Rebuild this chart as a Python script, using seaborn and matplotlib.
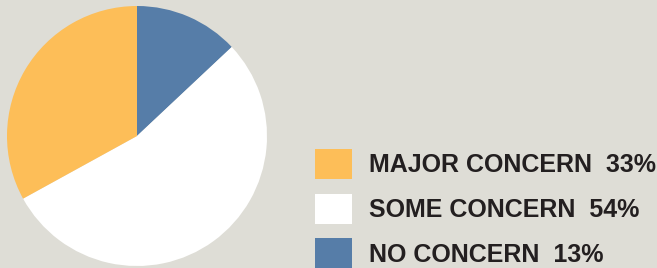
import matplotlib
matplotlib.use("Agg")
import matplotlib.pyplot as plt
import seaborn as sns
from matplotlib.patches import Patch

categories = ["MAJOR CONCERN", "SOME CONCERN", "NO CONCERN"]
values = [33, 54, 13]
colors = ["#FDBE58", "#FFFFFF", "#567DA8"]
bg = "#DEDDD6"
text_color = "#231F20"

sns.set_theme(style="white")
plt.rcParams["font.family"] = ["Liberation Sans", "DejaVu Sans"]

W, H = 657, 268
fig = plt.figure(figsize=(W / 100, H / 100), dpi=100, facecolor=bg)

ax = fig.add_axes([7 / W, (H - 266) / H, 260 / W, 260 / H])
ax.set_facecolor(bg)
order = [2, 1, 0]  # clockwise from top: NO, SOME, MAJOR
ax.pie([values[i] for i in order], colors=[colors[i] for i in order],
       startangle=90, counterclock=False, radius=1,
       wedgeprops=dict(linewidth=0))
ax.set_xlim(-1, 1)
ax.set_ylim(-1, 1)
ax.set_aspect("equal")
ax.axis("off")

fs = 18
fpx = fs * 100 / 72
handles = [Patch(facecolor=c, edgecolor="none") for c in colors]
labels = [f"{c}  {v}%" for c, v in zip(categories, values)]
leg = fig.legend(handles, labels, loc="upper left",
                 bbox_to_anchor=(315 / W, (H - 151) / H),
                 frameon=False, borderpad=0, borderaxespad=0,
                 handlelength=37 / fpx, handleheight=30 / fpx,
                 handletextpad=17 / fpx, labelspacing=18.5 / fpx,
                 prop=dict(size=fs, weight="bold"))
for t in leg.get_texts():
    t.set_color(text_color)
target_pt = 30 * 72 / 100
for h in leg.legend_handles:
    cur = h.get_height()
    h.set_y(h.get_y() - (target_pt - cur) / 2)
    h.set_height(target_pt)

fig.savefig("out.png", dpi=100, facecolor=bg)
